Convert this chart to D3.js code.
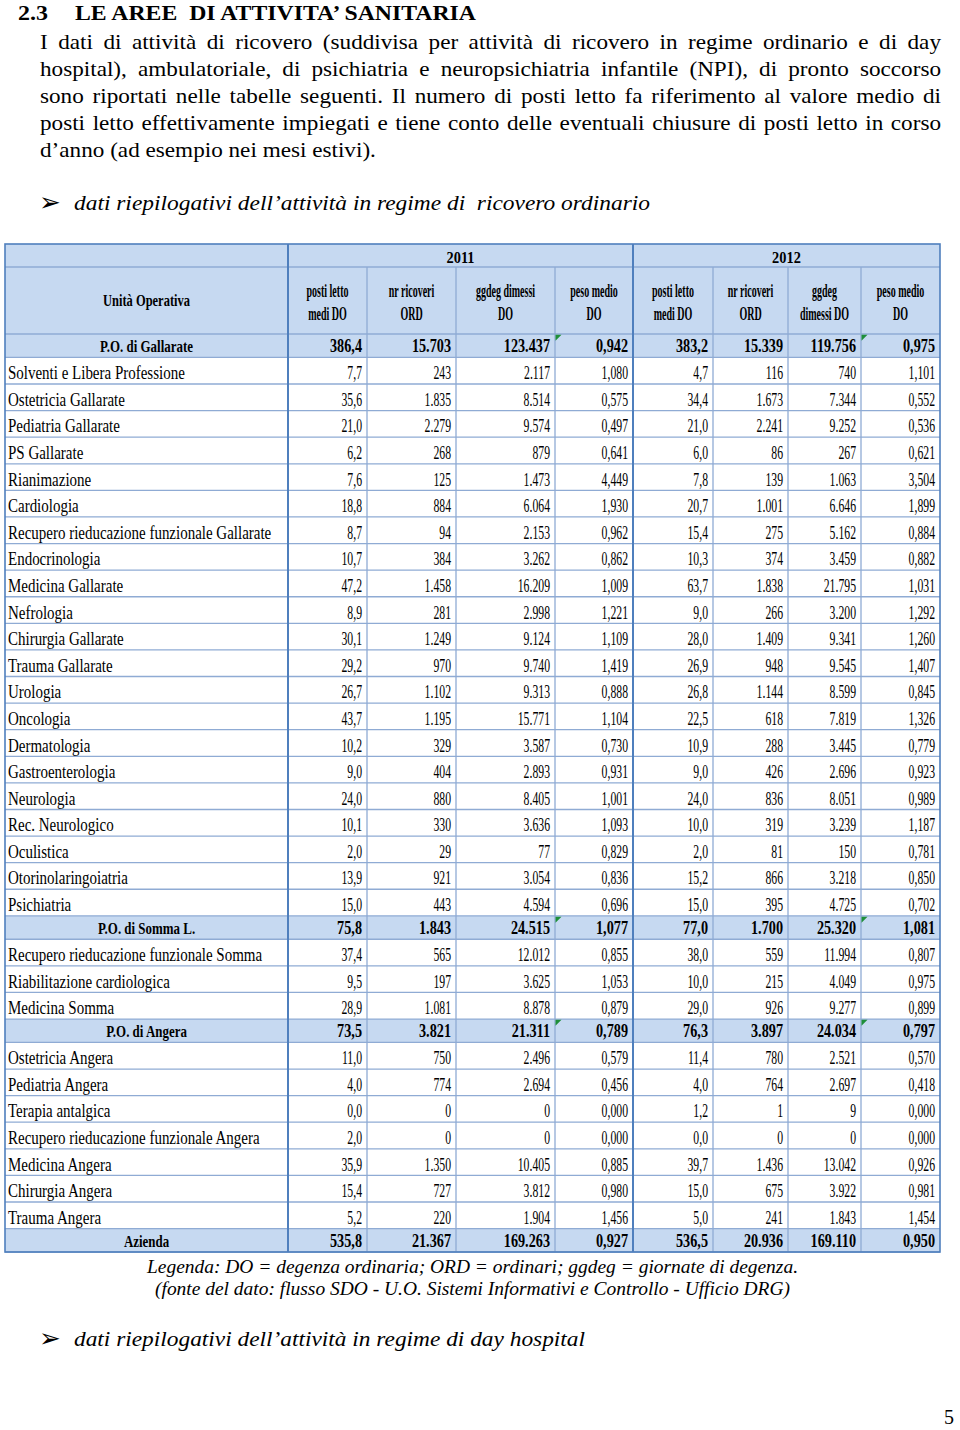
<!DOCTYPE html>
<html><head><meta charset="utf-8">
<script src="https://cdn.jsdelivr.net/npm/d3@7"></script>
<style>
body{margin:0;background:#fff;}
svg{display:block;}
</style></head><body>
<svg id="c" width="960" height="1430"></svg>
<script>
// ---------------- DATA ----------------
const units = ["P.O. di Gallarate","Solventi e Libera Professione","Ostetricia Gallarate","Pediatria Gallarate","PS Gallarate","Rianimazione","Cardiologia","Recupero rieducazione funzionale Gallarate","Endocrinologia","Medicina Gallarate","Nefrologia","Chirurgia Gallarate","Trauma Gallarate","Urologia","Oncologia","Dermatologia","Gastroenterologia","Neurologia","Rec. Neurologico","Oculistica","Otorinolaringoiatria","Psichiatria","P.O. di Somma L.","Recupero rieducazione funzionale Somma","Riabilitazione cardiologica","Medicina Somma","P.O. di Angera","Ostetricia Angera","Pediatria Angera","Terapia antalgica","Recupero rieducazione funzionale Angera","Medicina Angera","Chirurgia Angera","Trauma Angera","Azienda"];
const rowKinds = ["g","u","u","u","u","u","u","u","u","u","u","u","u","u","u","u","u","u","u","u","u","u","g","u","u","u","g","u","u","u","u","u","u","u","t"];

const posti2011 = [386.4,7.7,35.6,21.0,6.2,7.6,18.8,8.7,10.7,47.2,8.9,30.1,29.2,26.7,43.7,10.2,9.0,24.0,10.1,2.0,13.9,15.0,75.8,37.4,9.5,28.9,73.5,11.0,4.0,0.0,2.0,35.9,15.4,5.2,535.8];
const ricoveri2011 = [15703,243,1835,2279,268,125,884,94,384,1458,281,1249,970,1102,1195,329,404,880,330,29,921,443,1843,565,197,1081,3821,750,774,0,0,1350,727,220,21367];
const ggdeg2011 = [123437,2117,8514,9574,879,1473,6064,2153,3262,16209,2998,9124,9740,9313,15771,3587,2893,8405,3636,77,3054,4594,24515,12012,3625,8878,21311,2496,2694,0,0,10405,3812,1904,169263];
const peso2011 = [0.942,1.080,0.575,0.497,0.641,4.449,1.930,0.962,0.862,1.009,1.221,1.109,1.419,0.888,1.104,0.730,0.931,1.001,1.093,0.829,0.836,0.696,1.077,0.855,1.053,0.879,0.789,0.579,0.456,0.000,0.000,0.885,0.980,1.456,0.927];
const posti2012 = [383.2,4.7,34.4,21.0,6.0,7.8,20.7,15.4,10.3,63.7,9.0,28.0,26.9,26.8,22.5,10.9,9.0,24.0,10.0,2.0,15.2,15.0,77.0,38.0,10.0,29.0,76.3,11.4,4.0,1.2,0.0,39.7,15.0,5.0,536.5];
const ricoveri2012 = [15339,116,1673,2241,86,139,1001,275,374,1838,266,1409,948,1144,618,288,426,836,319,81,866,395,1700,559,215,926,3897,780,764,1,0,1436,675,241,20936];
const ggdeg2012 = [119756,740,7344,9252,267,1063,6646,5162,3459,21795,3200,9341,9545,8599,7819,3445,2696,8051,3239,150,3218,4725,25320,11994,4049,9277,24034,2521,2697,9,0,13042,3922,1843,169110];
const peso2012 = [0.975,1.101,0.552,0.536,0.621,3.504,1.899,0.884,0.882,1.031,1.292,1.260,1.407,0.845,1.326,0.779,0.923,0.989,1.187,0.781,0.850,0.702,1.081,0.807,0.975,0.899,0.797,0.570,0.418,0.000,0.000,0.926,0.981,1.454,0.950];

const years = ["2011","2012"];
const colHeaders2011 = [["posti letto","medi DO"],["nr ricoveri","ORD"],["ggdeg dimessi","DO"],["peso medio","DO"]];
const colHeaders2012 = [["posti letto","medi DO"],["nr ricoveri","ORD"],["ggdeg","dimessi DO"],["peso medio","DO"]];
const firstColHeader = "Unità Operativa";

const titleNum = "2.3";
const titleText = "LE AREE  DI ATTIVITA’ SANITARIA";
const paragraph = [
 "I dati di attività di ricovero (suddivisa per attività di ricovero in regime ordinario e di day",
 "hospital), ambulatoriale, di psichiatria e neuropsichiatria infantile (NPI), di pronto soccorso",
 "sono riportati nelle tabelle seguenti. Il numero di posti letto fa riferimento al valore medio di",
 "posti letto effettivamente impiegati e tiene conto delle eventuali chiusure di posti letto in corso",
 "d’anno (ad esempio nei mesi estivi)."
];
const bullet1 = "dati riepilogativi dell’attività in regime di  ricovero ordinario";
const legendLines = [
 "Legenda: DO = degenza ordinaria; ORD = ordinari; ggdeg = giornate di degenza.",
 "(fonte del dato: flusso SDO - U.O. Sistemi Informativi e Controllo - Ufficio DRG)"
];
const bullet2 = "dati riepilogativi dell’attività in regime di day hospital";
const pageNum = "5";

// ---------------- LAYOUT ----------------
const FONT = "'Liberation Serif','Times New Roman',serif";
const svg = d3.select('#c');
const loc = d3.formatLocale({decimal:",", thousands:".", grouping:[3], currency:["€",""]});
const f1 = loc.format(",.1f"), fi = loc.format(",d"), f3 = loc.format(",.3f");

const columns = [
 {key:"p11", vals:posti2011, f:f1},{key:"r11", vals:ricoveri2011, f:fi},{key:"g11", vals:ggdeg2011, f:fi},{key:"w11", vals:peso2011, f:f3, peso:true},
 {key:"p12", vals:posti2012, f:f1},{key:"r12", vals:ricoveri2012, f:fi},{key:"g12", vals:ggdeg2012, f:fi},{key:"w12", vals:peso2012, f:f3, peso:true}
];
const colWidths = [79,89,99,78,80,75,73,79];
const tableLeft = 5, firstColRight = 288;
const lefts = [];
{ let acc = firstColRight; colWidths.forEach(w=>{lefts.push(acc); acc+=w;}); }
const tableRight = firstColRight + d3.sum(colWidths);
const xLeft = d3.scaleOrdinal().domain(columns.map(c=>c.key)).range(lefts);
const xW = d3.scaleOrdinal().domain(columns.map(c=>c.key)).range(colWidths);

const tableTop = 244, yearBottom = 267, headBottom = 334, tableBottom = 1252;
const unitH = r => r === "u" ? 1 : 0.88;
const cum = [0]; rowKinds.forEach(k=>cum.push(cum[cum.length-1]+unitH(k)));
const y = d3.scaleLinear().domain([0, cum[cum.length-1]]).range([headBottom, tableBottom]);

function measure(txt, size, weight, style){
  const t = svg.append('text').attr('font-family',FONT).attr('font-size',size)
    .attr('font-weight',weight||'normal').attr('font-style',style||'normal').text(txt);
  const w = t.node().getComputedTextLength(); t.remove(); return w;
}
function ctext(g, x, yy, txt, o){
  const gg = g.append('g').attr('transform',`translate(${x},${yy}) scale(${o.sx},1)`);
  return gg.append('text').attr('font-family',FONT).attr('font-size',o.size)
    .attr('font-weight',o.weight||'normal').attr('font-style',o.style||'normal')
    .attr('text-anchor',o.anchor||'start').attr('fill','#000').text(txt);
}

const S = {
  label:{size:19.5, sx: 177/measure("Solventi e Libera Professione",19.5)},
  num:{size:19.5, sx: 26.4/measure("1.673",19.5)},
  blabel:{size:17, weight:'bold', sx: 93/measure("P.O. di Gallarate",17,'bold')},
  bnum:{size:18, weight:'bold', sx: 32/measure("386,4",18,'bold')},
  head:{size:17, weight:'bold', sx: 87/measure("Unità Operativa",17,'bold')},
  chead:{size:18.5, weight:'bold', sx: 42/measure("posti letto",18.5,'bold')},
  year:{size:17.5, weight:'bold', sx: 28/measure("2011",17.5,'bold')}
};

// ---------------- TITLE & PARAGRAPH ----------------
const topG = svg.append('g');
topG.append('text').attr('x',18).attr('y',19.5).attr('font-family',FONT).attr('font-size',22).attr('font-weight','bold')
  .attr('textLength',30).attr('lengthAdjust','spacingAndGlyphs').text(titleNum);
topG.append('text').attr('x',75).attr('y',19.5).attr('font-family',FONT).attr('font-size',22).attr('font-weight','bold')
  .attr('textLength',401).attr('lengthAdjust','spacingAndGlyphs').style('white-space','pre').text(titleText);

const PS = 21;
const lastW = measure(paragraph[4], PS);
const psx = 336/lastW;
const paraLeft = 40, paraRight = 941;
paragraph.forEach((line,i)=>{
  const yy = 48.5 + i*27;
  const g = topG.append('g').attr('transform',`translate(${paraLeft},${yy}) scale(${psx},1)`);
  const t = g.append('text').attr('font-family',FONT).attr('font-size',PS).text(line);
  if(i<4){
    const nat = t.node().getComputedTextLength();
    const spaces = (line.match(/ /g)||[]).length;
    const extra = ((paraRight-paraLeft)/psx - nat)/spaces;
    t.attr('word-spacing', extra);
    t.attr('textLength',(paraRight-paraLeft)/psx).attr('lengthAdjust','spacing');
  }
});

function bullet(yy, txt, w){
  topG.append('text').attr('x',39).attr('y',yy+1).attr('font-family',"'DejaVu Sans',sans-serif").attr('font-size',26).text("➢");
  topG.append('text').attr('x',74).attr('y',yy).attr('font-family',FONT).attr('font-size',20.5).attr('font-style','italic')
    .style('white-space','pre').attr('textLength',w).attr('lengthAdjust','spacingAndGlyphs').text(txt);
}
bullet(210, bullet1, 576);

// ---------------- TABLE ----------------
const T = svg.append('g');
const HEAD_FILL = "#c6d9f1", LINE = "#8fabd4", DARK = "#4f7fbd";

T.append('rect').attr('x',tableLeft).attr('y',tableTop).attr('width',tableRight-tableLeft).attr('height',headBottom-tableTop).attr('fill',HEAD_FILL);
T.selectAll('rect.row').data(rowKinds).join('rect').attr('class','row')
  .attr('x',tableLeft).attr('y',(d,i)=>y(cum[i])).attr('width',tableRight-tableLeft)
  .attr('height',(d,i)=>y(cum[i+1])-y(cum[i])).attr('fill',d=>d==='u'?'#ffffff':HEAD_FILL);

T.selectAll('line.h').data(d3.range(rowKinds.length+1)).join('line').attr('class','h')
  .attr('x1',tableLeft).attr('x2',tableRight).attr('y1',i=>y(cum[i])).attr('y2',i=>y(cum[i]))
  .attr('stroke',LINE).attr('stroke-width',1.3);
T.append('line').attr('x1',tableLeft).attr('x2',tableRight).attr('y1',yearBottom).attr('y2',yearBottom).attr('stroke',LINE).attr('stroke-width',1.3);
T.selectAll('line.v').data(columns.filter((c,i)=>i!==0 && i!==4)).join('line').attr('class','v')
  .attr('x1',c=>xLeft(c.key)).attr('x2',c=>xLeft(c.key)).attr('y1',yearBottom).attr('y2',tableBottom)
  .attr('stroke',LINE).attr('stroke-width',1.3);
T.selectAll('line.vt').data([firstColRight, xLeft("p12")]).join('line').attr('class','vt')
  .attr('x1',d=>d).attr('x2',d=>d).attr('y1',tableTop).attr('y2',tableBottom)
  .attr('stroke',DARK).attr('stroke-width',2);
T.append('rect').attr('x',tableLeft).attr('y',tableTop).attr('width',tableRight-tableLeft).attr('height',tableBottom-tableTop)
  .attr('fill','none').attr('stroke',DARK).attr('stroke-width',1.6);

ctext(T, (tableLeft+firstColRight)/2, 306, firstColHeader, {...S.head, anchor:'middle'});
years.forEach((yr,k)=>{
  const a = k===0 ? xLeft("p11") : xLeft("p12");
  const b = k===0 ? xLeft("p12") : tableRight;
  ctext(T, (a+b)/2, 263, yr, {...S.year, anchor:'middle'});
});
const allHeads = colHeaders2011.concat(colHeaders2012);
columns.forEach((c,j)=>{
  const cx = xLeft(c.key)+xW(c.key)/2;
  ctext(T, cx, 297, allHeads[j][0], {...S.chead, anchor:'middle'});
  ctext(T, cx, 320, allHeads[j][1], {...S.chead, anchor:'middle'});
});

units.forEach((u,i)=>{
  const bottom = y(cum[i+1]);
  if(rowKinds[i]==='u') ctext(T, 8, bottom-4.8, u, S.label);
  else ctext(T, (tableLeft+firstColRight)/2, bottom-5, u, {...S.blabel, anchor:'middle'});
});
columns.forEach(c=>{
  const right = xLeft(c.key)+xW(c.key)-5;
  c.vals.forEach((v,i)=>{
    const bottom = y(cum[i+1]);
    if(rowKinds[i]==='u') ctext(T, right, bottom-4.8, c.f(v), {...S.num, anchor:'end'});
    else ctext(T, right, bottom-5, c.f(v), {...S.bnum, anchor:'end'});
  });
});
columns.filter(c=>c.peso).forEach(c=>{
  rowKinds.forEach((k,i)=>{
    if(k!=='g') return;
    const x0 = xLeft(c.key)+0.5, y0 = y(cum[i])+0.8;
    T.append('path').attr('d',`M${x0},${y0}L${x0+6},${y0}L${x0},${y0+6}Z`).attr('fill','#1f8f3a');
  });
});

// ---------------- LEGEND & FOOTER ----------------
legendLines.forEach((l,i)=>{
  const xs = [[147,651],[155,635]][i];
  svg.append('text').attr('x',xs[0]).attr('y',[1272.5,1294.5][i]).attr('font-family',FONT).attr('font-size',18).attr('font-style','italic')
    .attr('textLength',xs[1]).attr('lengthAdjust','spacingAndGlyphs').text(l);
});
bullet(1346, bullet2, 511);
svg.append('text').attr('x',944).attr('y',1424).attr('font-family',FONT).attr('font-size',20).text(pageNum);
</script>
</body></html>
